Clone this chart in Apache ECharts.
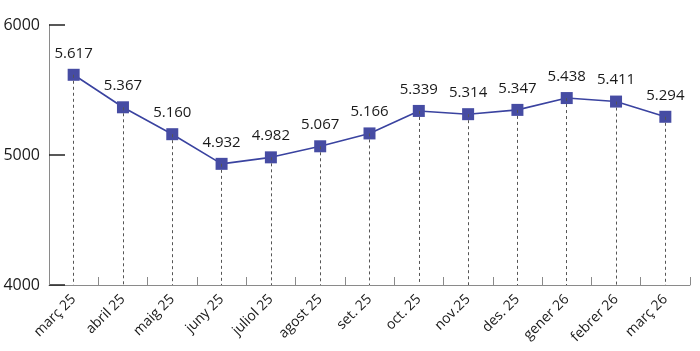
<!DOCTYPE html>
<html>
<head>
<meta charset="utf-8">
<script src="https://cdn.jsdelivr.net/npm/echarts@6/dist/echarts.min.js"></script>
<style>
html,body{margin:0;padding:0;background:#fff;}
#main{width:700px;height:351px;}
</style>
</head>
<body>
<div id="main"></div>
<script>
var months = ['març 25','abril 25','maig 25','juny 25','juliol 25','agost 25','set. 25','oct. 25','nov.25','des. 25','gener 26','febrer 26','març 26'];
var values = [5617,5367,5160,4932,4982,5067,5166,5339,5314,5347,5438,5411,5294];
var yTicks = [4000,5000,6000];

var chart = echarts.init(document.getElementById('main'));

// linies discontinues de cada punt fins a l'eix
var drops = [];
for (var i = 0; i < values.length; i++) {
	drops.push([{coord:[i, values[i]]},{coord:[i, yTicks[0]]}]);
}

var option = {
	animation:false,
	textStyle:{fontFamily:'Open Sans'},
	grid:{left:49,right:10,top:25,bottom:66},
	xAxis:{
		type:'category',
		data:months,
		boundaryGap:true,
		axisLine:{lineStyle:{color:'#8a8a8a',width:1}},
		axisTick:{show:true,inside:true,length:8,lineStyle:{color:'#8a8a8a'}},
		axisLabel:{rotate:45,color:'#1a1a1a',fontSize:14,margin:12,interval:0}
	},
	yAxis:{
		type:'value',
		min:yTicks[0],
		max:yTicks[yTicks.length-1],
		interval:1000,
		axisLine:{show:true,lineStyle:{color:'#8a8a8a',width:1}},
		axisTick:{show:true,inside:true,length:16,lineStyle:{color:'#222',width:1.5}},
		splitLine:{show:false},
		axisLabel:{color:'#1a1a1a',fontSize:16,margin:9,formatter:function(v){return String(v);}}
	},
	series:[{
		type:'line',
		data:values,
		symbol:'rect',
		symbolSize:12,
		lineStyle:{color:'#3a43a0',width:1.6},
		itemStyle:{color:'#464ca3'},
		label:{
			show:true,position:'top',distance:8,color:'#1a1a1a',fontSize:15,
			formatter:function(p){return (p.value/1000).toFixed(3);}
		},
		markLine:{
			silent:true,
			symbol:['none','none'],
			label:{show:false},
			lineStyle:{type:[3,3],color:'#555',width:1},
			data:drops
		},
		z:3
	}]
};
chart.setOption(option);
</script>
</body>
</html>
